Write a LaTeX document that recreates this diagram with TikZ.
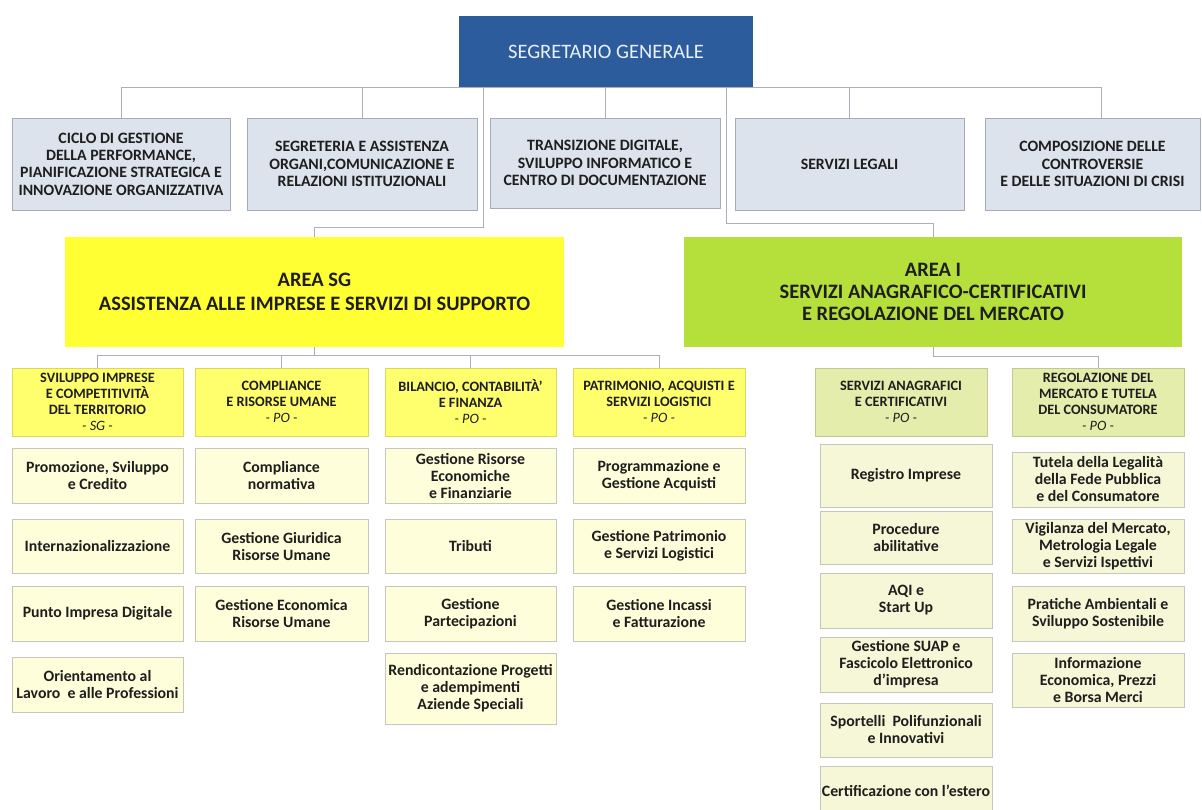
\documentclass[tikz,border=0pt]{standalone}
\usepackage{fontspec}
\setmainfont{Carlito}
\definecolor{sgblue}{RGB}{44,92,155}
\definecolor{sgtext}{RGB}{235,240,248}
\definecolor{topfill}{RGB}{220,227,236}
\definecolor{topline}{RGB}{165,172,184}
\definecolor{areay}{RGB}{255,255,51}
\definecolor{areag}{RGB}{181,224,60}
\definecolor{suby}{RGB}{255,255,110}
\definecolor{subg}{RGB}{229,237,172}
\definecolor{itemy}{RGB}{255,254,218}
\definecolor{itemg}{RGB}{245,247,214}
\definecolor{itemline}{RGB}{198,198,186}
\definecolor{conncol}{RGB}{170,175,185}
\definecolor{txt}{RGB}{30,30,30}
\newcommand\obox[7]{\node[#6,minimum width={#4-#2},minimum height={#5-#3}] (#1) at ({(#2+#4)/2},{(#3+#5)/2}) {#7};}
\tikzset{
  base/.style={align=center,inner sep=1pt,outer sep=0pt,text=txt},
  sgbox/.style={base,fill=sgblue,text=sgtext,font=\fontsize{20.5}{24}\selectfont},
  topbox/.style={base,fill=topfill,draw=topline,line width=0.8pt,font=\fontsize{15.8}{17.3}\selectfont\bfseries},
  areaybox/.style={base,fill=areay,font=\fontsize{20.5}{24}\selectfont\bfseries},
  areagbox/.style={base,fill=areag,font=\fontsize{20.5}{22}\selectfont\bfseries},
  subybox/.style={base,fill=suby,draw=suby!85!black,line width=0.5pt,font=\fontsize{14.3}{16}\selectfont\bfseries},
  subgbox/.style={base,fill=subg,draw=subg!85!black,line width=0.5pt,font=\fontsize{14.3}{16}\selectfont\bfseries},
  itemybox/.style={base,fill=itemy,draw=itemline,line width=0.7pt,font=\fontsize{15.8}{17}\selectfont\bfseries},
  itemgbox/.style={base,fill=itemg,draw=itemline,line width=0.7pt,font=\fontsize{15.8}{17}\selectfont\bfseries},
  conn/.style={draw=conncol,line width=0.8pt}
}
\newcommand\po[1]{{\normalfont\itshape #1}}
\begin{document}
\begin{tikzpicture}[x=1pt,y=-1pt]
\useasboundingbox (0,0) rectangle (1202,809);
\fill[white] (0,0) rectangle (1202,809);

% ---------- connector junctions
\coordinate (jl) at (483,227);
\coordinate (jr) at (726,223);

% ---------- nodes
\obox{sg}{459}{16}{753}{87}{sgbox}{SEGRETARIO GENERALE}
\obox{ciclo}{12}{118}{230}{210}{topbox}{CICLO DI GESTIONE\\DELLA PERFORMANCE,\\PIANIFICAZIONE STRATEGICA E\\INNOVAZIONE ORGANIZZATIVA}
\obox{segr}{247}{118}{477}{210}{topbox}{SEGRETERIA E ASSISTENZA\\ORGANI,COMUNICAZIONE E\\RELAZIONI ISTITUZIONALI}
\obox{trans}{490}{118}{720}{208}{topbox}{TRANSIZIONE DIGITALE,\\SVILUPPO INFORMATICO E\\CENTRO DI DOCUMENTAZIONE}
\obox{legali}{735}{118}{964}{210}{topbox}{SERVIZI LEGALI}
\obox{comp}{985}{118}{1200}{210}{topbox}{COMPOSIZIONE DELLE\\CONTROVERSIE\\E DELLE SITUAZIONI DI CRISI}

\obox{areasg}{65}{237}{564}{347}{areaybox}{AREA SG\\ASSISTENZA ALLE IMPRESE E SERVIZI DI SUPPORTO}
\obox{areai}{684}{237}{1182}{347}{areagbox}{AREA I\\SERVIZI ANAGRAFICO-CERTIFICATIVI\\E REGOLAZIONE DEL MERCATO}

\obox{svil}{12}{368}{183}{436}{subybox}{SVILUPPO IMPRESE\\E COMPETITIVITÀ\\DEL TERRITORIO\\\po{- SG -}}
\obox{compl}{195}{368}{368}{436}{subybox}{COMPLIANCE\\E RISORSE UMANE\\\po{- PO -}}
\obox{bil}{385}{368}{556}{436}{subybox}{BILANCIO, CONTABILITÀ’\\E FINANZA\\\po{- PO -}}
\obox{patr}{573}{368}{745}{436}{subybox}{PATRIMONIO, ACQUISTI E\\SERVIZI LOGISTICI\\\po{- PO -}}
\obox{servan}{815}{368}{987}{436}{subgbox}{SERVIZI ANAGRAFICI\\E CERTIFICATIVI\\\po{- PO -}}
\obox{regol}{1012}{368}{1184}{436}{subgbox}{REGOLAZIONE DEL\\MERCATO E TUTELA\\DEL CONSUMATORE\\\po{- PO -}}

% column 1
\obox{a1}{12}{448}{183}{503}{itemybox}{Promozione, Sviluppo\\e Credito}
\obox{a2}{12}{519}{183}{573}{itemybox}{Internazionalizzazione}
\obox{a3}{12}{586}{183}{641}{itemybox}{Punto Impresa Digitale}
\obox{a4}{12}{657}{183}{712}{itemybox}{Orientamento al\\Lavoro~ e alle Professioni}
% column 2
\obox{b1}{195}{448}{368}{503}{itemybox}{Compliance\\normativa}
\obox{b2}{195}{519}{368}{573}{itemybox}{Gestione Giuridica\\Risorse Umane}
\obox{b3}{195}{586}{368}{641}{itemybox}{Gestione Economica\\Risorse Umane}
% column 3
\obox{c1}{385}{448}{556}{503}{itemybox}{Gestione Risorse\\Economiche\\e Finanziarie}
\obox{c2}{385}{519}{556}{573}{itemybox}{Tributi}
\obox{c3}{385}{586}{556}{641}{itemybox}{Gestione\\Partecipazioni}
\obox{c4}{385}{653}{556}{724}{itemybox}{Rendicontazione Progetti\\e adempimenti\\Aziende Speciali}
% column 4
\obox{d1}{573}{448}{745}{503}{itemybox}{Programmazione e\\Gestione Acquisti}
\obox{d2}{573}{519}{745}{573}{itemybox}{Gestione Patrimonio\\e Servizi Logistici}
\obox{d3}{573}{586}{745}{641}{itemybox}{Gestione Incassi\\e Fatturazione}
% column 5
\obox{e1}{820}{444}{992}{507}{itemgbox}{Registro Imprese}
\obox{e2}{820}{511}{992}{564}{itemgbox}{Procedure\\abilitative}
\obox{e3}{820}{573}{992}{628}{itemgbox}{AQI e\\Start Up}
\obox{e4}{820}{637}{992}{692}{itemgbox}{Gestione SUAP e\\Fascicolo Elettronico\\d’impresa}
\obox{e5}{820}{703}{992}{757}{itemgbox}{Sportelli~ Polifunzionali\\e Innovativi}
\obox{e6}{820}{766}{992}{815}{itemgbox}{Certificazione con l’estero}
% column 6
\obox{f1}{1012}{452}{1184}{507}{itemgbox}{Tutela della Legalità\\della Fede Pubblica\\e del Consumatore}
\obox{f2}{1012}{519}{1184}{573}{itemgbox}{Vigilanza del Mercato,\\Metrologia Legale\\e Servizi Ispettivi}
\obox{f3}{1012}{586}{1184}{641}{itemgbox}{Pratiche Ambientali e\\Sviluppo Sostenibile}
\obox{f4}{1012}{653}{1184}{707}{itemgbox}{Informazione\\Economica, Prezzi\\e Borsa Merci}

% ---------- connectors
\path (areasg.south) ++(0,8) coordinate (bl);
\path (areai.south) ++(0,9) coordinate (br);
\draw[conn] (ciclo.north) |- (sg.south);
\draw[conn] (segr.north) |- (sg.south);
\draw[conn] (trans.north) |- (sg.south);
\draw[conn] (legali.north) |- (sg.south);
\draw[conn] ([xshift=9pt]comp.north) |- (sg.south);
\draw[conn] (areasg.north) |- (jl) -- (jl |- sg.south);
\draw[conn] (areai.north) |- (jr) -- (jr |- sg.south);
\draw[conn] (areasg.south) -- (bl);
\draw[conn] (svil.north) |- (bl);
\draw[conn] (compl.north) |- (bl);
\draw[conn] (bil.north) |- (bl);
\draw[conn] (patr.north) |- (bl);
\draw[conn] (areai.south) -- (br);
\draw[conn] (regol.north) |- (br);
\end{tikzpicture}
\end{document}
